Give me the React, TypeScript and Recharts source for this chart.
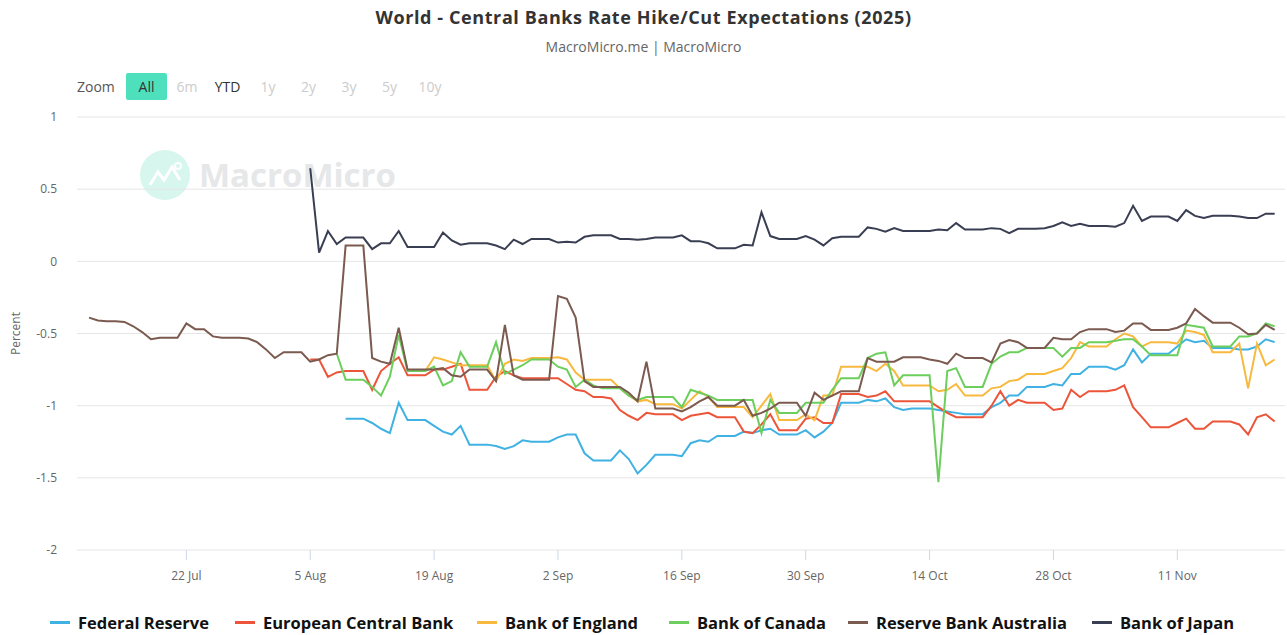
import React from "react"
import { LineChart, Line, XAxis, YAxis, CartesianGrid } from "recharts"

// day 0 = 11 Jul 2025, one point per calendar day up to 22 Nov
const dayCount = 135
const tickDays = [11, 25, 39, 53, 67, 81, 95, 109, 123]
const tickLabels = ["22 Jul", "5 Aug", "19 Aug", "2 Sep", "16 Sep", "30 Sep", "14 Oct", "28 Oct", "11 Nov"]
const yTicks = [-2, -1.5, -1, -0.5, 0, 0.5, 1]
const zoomButtons = ["All", "6m", "YTD", "1y", "2y", "3y", "5y", "10y"]

const fedStart = 29
const fed = [
  -1.09, -1.09, -1.09, -1.12, -1.16, -1.19, -0.98, -1.10, -1.10, -1.10,
  -1.14, -1.18, -1.20, -1.14, -1.27, -1.27, -1.27, -1.28, -1.30, -1.28,
  -1.24, -1.25, -1.25, -1.25, -1.22, -1.20, -1.20, -1.33, -1.38, -1.38,
  -1.38, -1.31, -1.37, -1.47, -1.41, -1.34, -1.34, -1.34, -1.35, -1.26,
  -1.24, -1.25, -1.21, -1.21, -1.21, -1.18, -1.19, -1.17, -1.16, -1.20,
  -1.20, -1.20, -1.17, -1.22, -1.18, -1.12, -0.98, -0.98, -0.98, -0.96,
  -0.97, -0.95, -1.01, -1.03, -1.02, -1.02, -1.02, -1.03, -1.04, -1.05,
  -1.06, -1.06, -1.06, -1.01, -0.98, -0.93, -0.93, -0.87, -0.87, -0.87,
  -0.85, -0.86, -0.78, -0.78, -0.73, -0.73, -0.73, -0.75, -0.72, -0.61,
  -0.70, -0.64, -0.64, -0.64, -0.59, -0.54, -0.56, -0.55, -0.60, -0.60,
  -0.60, -0.61, -0.61, -0.59, -0.54, -0.56,
]

const ecbStart = 25
const ecb = [
  -0.68, -0.68, -0.80, -0.77, -0.76, -0.76, -0.76, -0.89, -0.76, -0.71,
  -0.665, -0.79, -0.79, -0.79, -0.75, -0.75, -0.73, -0.71, -0.89, -0.89,
  -0.89, -0.80, -0.76, -0.79, -0.81, -0.81, -0.81, -0.81, -0.81, -0.85,
  -0.89, -0.90, -0.94, -0.94, -0.95, -1.03, -1.07, -1.10, -1.05, -1.06,
  -1.06, -1.06, -1.10, -1.07, -1.06, -1.05, -1.08, -1.08, -1.08, -1.18,
  -1.19, -1.13, -1.06, -1.17, -1.17, -1.17, -1.09, -1.08, -1.12, -1.12,
  -0.92, -0.92, -0.92, -0.94, -0.93, -0.90, -0.97, -0.97, -0.97, -0.97,
  -0.97, -1.01, -1.05, -1.08, -1.08, -1.08, -1.08, -1.00, -0.90, -1.00,
  -0.96, -0.98, -0.98, -0.98, -1.03, -1.02, -0.89, -0.94, -0.90, -0.90,
  -0.90, -0.89, -0.86, -1.01, -1.08, -1.15, -1.15, -1.15, -1.12, -1.09,
  -1.16, -1.16, -1.11, -1.11, -1.11, -1.13, -1.20, -1.08, -1.06, -1.11,
]

const boeStart = 36
const boe = [
  -0.76, -0.76, -0.76, -0.665, -0.68, -0.70, -0.72, -0.72, -0.72, -0.72,
  -0.83, -0.71, -0.68, -0.69, -0.67, -0.67, -0.67, -0.665, -0.68, -0.77,
  -0.82, -0.82, -0.82, -0.82, -0.88, -0.93, -0.97, -0.96, -0.99, -0.99,
  -0.99, -1.02, -0.96, -0.90, -0.94, -1.01, -1.01, -1.01, -1.01, -1.08,
  -1.00, -0.92, -1.10, -1.10, -1.10, -1.06, -1.10, -0.93, -0.93, -0.73,
  -0.73, -0.73, -0.73, -0.76, -0.71, -0.76, -0.86, -0.86, -0.86, -0.86,
  -0.90, -0.89, -0.85, -0.93, -0.93, -0.93, -0.88, -0.87, -0.83, -0.82,
  -0.78, -0.78, -0.78, -0.76, -0.74, -0.67, -0.56, -0.59, -0.59, -0.59,
  -0.54, -0.50, -0.52, -0.59, -0.56, -0.56, -0.56, -0.57, -0.48, -0.49,
  -0.51, -0.63, -0.63, -0.63, -0.57, -0.88, -0.57, -0.72, -0.68,
]

const bocStart = 28
const boc = [
  -0.64, -0.82, -0.82, -0.82, -0.87, -0.93, -0.80, -0.51, -0.76, -0.76,
  -0.76, -0.73, -0.86, -0.83, -0.63, -0.73, -0.73, -0.73, -0.56, -0.78,
  -0.75, -0.72, -0.68, -0.68, -0.68, -0.73, -0.75, -0.87, -0.82, -0.86,
  -0.88, -0.88, -0.88, -0.93, -0.96, -0.94, -0.94, -0.94, -0.94, -1.01,
  -0.89, -0.91, -0.93, -0.96, -0.96, -0.96, -0.96, -0.96, -1.19, -0.96,
  -1.05, -1.05, -1.05, -0.98, -0.98, -0.98, -0.89, -0.81, -0.81, -0.81,
  -0.67, -0.64, -0.63, -0.86, -0.79, -0.79, -0.79, -0.79, -1.53, -0.76,
  -0.74, -0.87, -0.87, -0.87, -0.71, -0.66, -0.63, -0.63, -0.60, -0.60,
  -0.60, -0.60, -0.66, -0.60, -0.60, -0.56, -0.56, -0.56, -0.55, -0.54,
  -0.54, -0.59, -0.65, -0.65, -0.65, -0.65, -0.44, -0.45, -0.46, -0.59,
  -0.59, -0.59, -0.52, -0.52, -0.50, -0.43, -0.45,
]

const rbaStart = 0
const rba = [
  -0.39, -0.41, -0.415, -0.415, -0.42, -0.45, -0.49, -0.54, -0.53, -0.53,
  -0.53, -0.43, -0.47, -0.47, -0.52, -0.53, -0.53, -0.53, -0.535, -0.56,
  -0.61, -0.67, -0.63, -0.63, -0.63, -0.695, -0.68, -0.65, -0.64, 0.11,
  0.11, 0.11, -0.67, -0.695, -0.71, -0.46, -0.75, -0.75, -0.75, -0.75,
  -0.74, -0.79, -0.80, -0.75, -0.75, -0.75, -0.83, -0.44, -0.79, -0.82,
  -0.82, -0.82, -0.82, -0.24, -0.26, -0.39, -0.83, -0.87, -0.87, -0.87,
  -0.87, -0.91, -0.97, -0.695, -1.02, -1.02, -1.02, -1.04, -1.01, -0.97,
  -0.94, -1.00, -1.00, -1.00, -0.96, -1.07, -1.05, -1.02, -0.98, -0.98,
  -0.98, -1.07, -0.91, -0.96, -0.93, -0.90, -0.90, -0.90, -0.67, -0.695,
  -0.695, -0.695, -0.665, -0.665, -0.665, -0.68, -0.69, -0.71, -0.64, -0.67,
  -0.67, -0.67, -0.70, -0.57, -0.545, -0.56, -0.60, -0.60, -0.60, -0.53,
  -0.54, -0.54, -0.49, -0.47, -0.47, -0.47, -0.49, -0.48, -0.43, -0.43,
  -0.475, -0.475, -0.475, -0.46, -0.43, -0.33, -0.38, -0.425, -0.425, -0.425,
  -0.46, -0.505, -0.50, -0.44, -0.475,
]

const bojStart = 25
const boj = [
  0.645, 0.06, 0.21, 0.12, 0.165, 0.165, 0.165, 0.085, 0.125, 0.125,
  0.21, 0.10, 0.10, 0.10, 0.10, 0.20, 0.145, 0.115, 0.125, 0.125,
  0.125, 0.11, 0.085, 0.15, 0.12, 0.155, 0.155, 0.155, 0.13, 0.135,
  0.13, 0.17, 0.18, 0.18, 0.18, 0.155, 0.155, 0.15, 0.155, 0.165,
  0.165, 0.165, 0.18, 0.14, 0.14, 0.125, 0.09, 0.09, 0.09, 0.115,
  0.11, 0.34, 0.175, 0.155, 0.155, 0.155, 0.175, 0.15, 0.11, 0.16,
  0.17, 0.17, 0.17, 0.235, 0.225, 0.205, 0.23, 0.21, 0.21, 0.21,
  0.21, 0.22, 0.215, 0.265, 0.22, 0.22, 0.22, 0.23, 0.225, 0.195,
  0.225, 0.225, 0.225, 0.23, 0.245, 0.27, 0.245, 0.26, 0.245, 0.245,
  0.245, 0.24, 0.265, 0.385, 0.28, 0.31, 0.31, 0.31, 0.28, 0.355,
  0.315, 0.30, 0.315, 0.315, 0.315, 0.31, 0.30, 0.30, 0.33, 0.33,
]

const series = [
  { key: "fed", name: "Federal Reserve", color: "#3fb1e3", start: fedStart, values: fed, legendX: 50 },
  { key: "ecb", name: "European Central Bank", color: "#ec5539", start: ecbStart, values: ecb, legendX: 235 },
  { key: "boe", name: "Bank of England", color: "#f7b93e", start: boeStart, values: boe, legendX: 477 },
  { key: "boc", name: "Bank of Canada", color: "#6cce5c", start: bocStart, values: boc, legendX: 669 },
  { key: "rba", name: "Reserve Bank Australia", color: "#7b5a4f", start: rbaStart, values: rba, legendX: 848 },
  { key: "boj", name: "Bank of Japan", color: "#393e52", start: bojStart, values: boj, legendX: 1092 },
]

const rows = Array.from({ length: dayCount }, (_, t) => {
  const row: Record<string, number | null> = { t }
  series.forEach((s) => {
    const i = t - s.start
    row[s.key] = i >= 0 && i < s.values.length ? s.values[i] : null
  })
  return row
})

const FONT = '"Open Sans", "Noto Sans", sans-serif'

export default function App() {
  return (
    <div style={{ position: "absolute", left: 0, top: 0, width: 1287, height: 635, background: "#fff", fontFamily: FONT, overflow: "hidden" }}>
      {/* title */}
      <div style={{ position: "absolute", top: 5, left: 0, width: 1287, textAlign: "center", fontSize: 18, letterSpacing: 0.6, fontWeight: 700, color: "#333" }}>
        World - Central Banks Rate Hike/Cut Expectations (2025)
      </div>
      <div style={{ position: "absolute", top: 37, left: 0, width: 1287, textAlign: "center", fontSize: 14, color: "#666" }}>
        MacroMicro.me | MacroMicro
      </div>

      {/* range selector */}
      <div style={{ position: "absolute", left: 77, top: 77, fontSize: 14, color: "#555", lineHeight: "20px" }}>Zoom</div>
      {zoomButtons.map((b, i) => (
        <div
          key={b}
          style={{
            position: "absolute", left: 126 + i * 40.5, top: 73, width: 41, height: 27, lineHeight: "27px",
            textAlign: "center", fontSize: 14, borderRadius: 2,
            background: b === "All" ? "#4ee0bc" : "transparent",
            color: b === "All" || b === "YTD" ? "#333" : "#ccc",
          }}
        >
          {b}
        </div>
      ))}

      {/* watermark */}
      <svg style={{ position: "absolute", left: 0, top: 0 }} width={1287} height={635}>
        <circle cx={165} cy={175} r={25} fill="#d6f6ee" />
        <polyline points="150,185 158,172 164,180 172,167 180,180" fill="none" stroke="#fff" strokeWidth={3} />
        <circle cx={178} cy={166} r={3} fill="none" stroke="#fff" strokeWidth={2} />
        <text x={199} y={187} fontSize={33} fontWeight={700} fill="#e6e7e8" fontFamily={FONT}>MacroMicro</text>
      </svg>

      {/* y axis title */}
      <div style={{ position: "absolute", left: -10, top: 325, width: 50, textAlign: "center", transform: "rotate(-90deg)", fontSize: 12, color: "#666" }}>
        Percent
      </div>

      <div style={{ position: "absolute", left: 0, top: 0 }}>
        <LineChart width={1287} height={635} data={rows} margin={{ top: 117, right: 2, bottom: 55, left: 17 }}>
          <CartesianGrid vertical={false} stroke="#e6e6e6" />
          <XAxis
            type="number"
            dataKey="t"
            domain={[-1.36, 135.17]}
            ticks={tickDays}
            tickFormatter={(v: number) => tickLabels[tickDays.indexOf(v)] ?? ""}
            height={30}
            axisLine={false}
            tickLine={{ stroke: "#ccd6eb" }}
            tickSize={10}
            tickMargin={11}
            tick={{ fill: "#666", fontSize: 12, fontFamily: FONT }}
          />
          <YAxis
            type="number"
            domain={[-2, 1]}
            ticks={yTicks}
            width={60}
            axisLine={false}
            tickLine={false}
            tickMargin={14}
            tick={{ fill: "#666", fontSize: 12, fontFamily: FONT }}
          />
          {series.map((s) => (
            <Line
              key={s.key}
              dataKey={s.key}
              name={s.name}
              type="linear"
              stroke={s.color}
              strokeWidth={2}
              dot={false}
              activeDot={false}
              isAnimationActive={false}
            />
          ))}
        </LineChart>
      </div>

      {/* legend */}
      {series.map((s) => (
        <div key={s.key} style={{ position: "absolute", left: s.legendX, top: 611, height: 22, display: "flex", alignItems: "center", whiteSpace: "nowrap" }}>
          <span style={{ display: "inline-block", width: 20, height: 3, background: s.color, marginRight: 8 }} />
          <span style={{ fontSize: 16.5, fontWeight: 700, color: "#111" }}>{s.name}</span>
        </div>
      ))}
    </div>
  )
}
